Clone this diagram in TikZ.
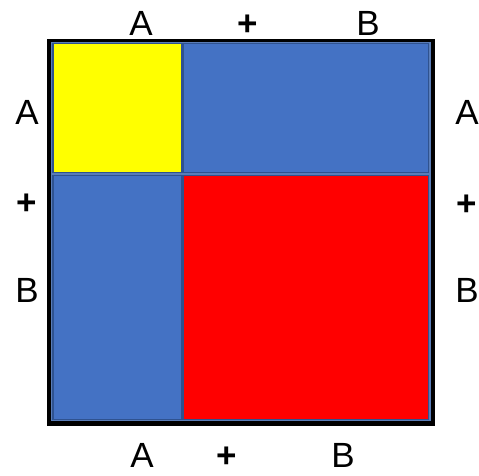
\documentclass[tikz,border=0pt]{standalone}
\usepackage{fontspec}
\setmainfont{Liberation Sans}
\definecolor{boxblue}{HTML}{4472C4}
\definecolor{edgeblue}{HTML}{2F528F}
\definecolor{gapblue}{HTML}{5A7DB8}
\definecolor{pureyellow}{RGB}{255,255,0}
\begin{document}
\begin{tikzpicture}[x=1pt,y=-1pt,
  lbl/.style={inner sep=0pt,font=\fontsize{35}{40}\selectfont},
  plbl/.style={inner sep=0pt,font=\fontsize{35}{40}\selectfont\bfseries},
  part/.style={draw=edgeblue,line width=1.2pt}]
\useasboundingbox (0,0) rectangle (479,475);
% outer frame
\fill[black] (47,39) rectangle (435,426);
\fill[gapblue] (50.5,42) rectangle (430.5,421);
% parts
\node[part,fill=pureyellow,minimum width=129pt,minimum height=129pt,inner sep=0pt] (aa) at (117.5,108) {};
\node[part,fill=boxblue,minimum width=245pt,minimum height=129pt,inner sep=0pt] (ab) at (306,108) {};
\node[part,fill=boxblue,minimum width=129pt,minimum height=244pt,inner sep=0pt] (ba) at (117.5,297.5) {};
\node[part,fill=red,minimum width=245pt,minimum height=244pt,inner sep=0pt] (bb) at (306,297.5) {};
% labels top
\node[lbl] (tA) at (141,23) {A};
\node[plbl] (tP) at (248,25) {+};
\node[lbl] (tB) at (368,23) {B};
% labels bottom
\node[lbl] (bA) at (142,455) {A};
\node[plbl] (bP) at (227,457) {+};
\node[lbl] (bB) at (343,455) {B};
% labels left
\node[lbl] (lA) at (27,112) {A};
\node[plbl] (lP) at (27,204) {+};
\node[lbl] (lB) at (27,290) {B};
% labels right
\node[lbl] (rA) at (467,112) {A};
\node[plbl] (rP) at (467,205) {+};
\node[lbl] (rB) at (467,290) {B};
\end{tikzpicture}
\end{document}
